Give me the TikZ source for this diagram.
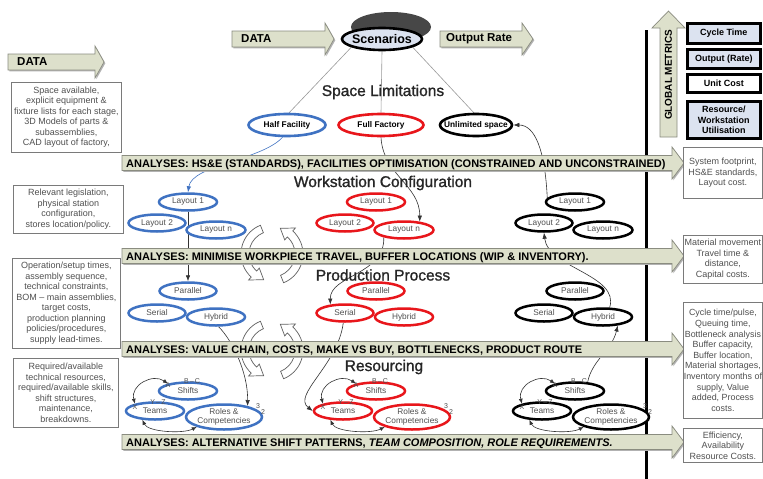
\documentclass[tikz,border=0pt]{standalone}
\usepackage{fontspec}
\setmainfont{Liberation Sans}
\newfontfamily\titlefont{Liberation Sans}[FakeBold=1.2]
\usetikzlibrary{shapes.geometric,arrows.meta,backgrounds}
\pgfdeclarelayer{bottom}
\pgfsetlayers{bottom,background,main}
\definecolor{bandfill}{HTML}{DDE0CB}
\definecolor{bandline}{HTML}{8A8C80}
\definecolor{cblue}{HTML}{3F72C2}
\definecolor{cred}{HTML}{E8161B}
\definecolor{metfill}{HTML}{DCE3F0}
\definecolor{txtgray}{HTML}{505050}
\definecolor{boxline}{HTML}{7A7A7A}
\tikzset{
 bandarrow/.style={fill=bandfill, draw=bandline, line width=0.7pt},
 bandshadow/.style={fill=black!30},
 bandtext/.style={anchor=base west, font=\fontsize{11}{11}\selectfont\bfseries, inner sep=0pt},
 arrowtext/.style={anchor=west, font=\fontsize{11.5}{12}\selectfont\bfseries, inner sep=0pt},
 title/.style={font=\titlefont\fontsize{15.5}{16}\selectfont, text=black!85},
 ell/.style={ellipse, draw=#1, line width=2.5pt, fill=white, inner sep=0pt, text=txtgray, font=\fontsize{8.3}{9}\selectfont, align=center},
 spell/.style={ellipse, draw=#1, line width=2.6pt, fill=white, inner sep=0pt, font=\fontsize{8.3}{9}\selectfont\bfseries, minimum height=22},
 infobox/.style={draw=boxline, line width=0.8pt, fill=white, text=txtgray, align=center, font=\fontsize{9}{10.5}\selectfont, inner sep=0pt, anchor=north west},
 metbox/.style={draw=black, line width=2.6pt, fill=metfill, align=center, font=\fontsize{9}{10.5}\selectfont\bfseries, minimum width=73, inner sep=0pt, anchor=north west},
 conn/.style={line width=0.6pt, draw=black!80, -{Latex[length=6pt,width=4.5pt]}},
 dconn/.style={line width=0.6pt, draw=black!80, {Latex[length=5pt,width=4pt]}-{Latex[length=5pt,width=4pt]}},
 feed/.style={draw=gray!80, line width=0.6pt},
 cyc/.style={draw=gray!75!black, line width=0.7pt, fill=white},
 lbl/.style={font=\fontsize{7}{7}\selectfont, text=txtgray, inner sep=0pt},
}
\newcommand\harrow[6]{%
 \fill[bandshadow] ({#1+1.3},{#4+#5-1.3}) -- ({#2+1.3},{#4+#5-1.3}) -- ({#2+1.3},{#4+#6-1.3}) -- ({#3+1.3},{#4-1.3}) -- ({#2+1.3},{#4-#6-1.3}) -- ({#2+1.3},{#4-#5-1.3}) -- ({#1+1.3},{#4-#5-1.3}) -- cycle;
 \draw[bandarrow] (#1,{#4+#5}) -- (#2,{#4+#5}) -- (#2,{#4+#6}) -- (#3,#4) -- (#2,{#4-#6}) -- (#2,{#4-#5}) -- (#1,{#4-#5}) -- cycle;}
\newcommand\cycarr[6]{%
 \pgfmathsetmacro\cyM{(#5+#6)/2}%
 \pgfmathsetmacro\cyO{#6+4}%
 \pgfmathsetmacro\cyI{#5-4}%
 \pgfmathsetmacro\cyH{#4+24}%
 \draw[cyc] ([shift={(#3:#6)}]#1,#2) arc[start angle=#3,end angle=#4,radius=#6] -- ([shift={(#4:\cyO)}]#1,#2) -- ([shift={(\cyH:\cyM)}]#1,#2) -- ([shift={(#4:\cyI)}]#1,#2) -- ([shift={(#4:#5)}]#1,#2) arc[start angle=#4,end angle=#3,radius=#5] -- cycle;}
\begin{document}
\begin{tikzpicture}[x=1pt,y=1pt]
\useasboundingbox (0,0) rectangle (763,-479);
\begin{pgfonlayer}{bottom}
\fill[white] (0,0) rectangle (763,-479);
\end{pgfonlayer}

% divider
\draw[line width=3pt] (646,-30) -- (646,-479);

% top arrows
\harrow{232}{325}{334}{-39}{8}{16}
\node[arrowtext] (dtop) at (241,-39) {DATA};
\harrow{440}{522}{533}{-39}{8}{16}
\node[arrowtext] (otop) at (446,-39) {Output Rate};
\harrow{8}{95}{104}{-62}{8}{16}
\node[arrowtext] (dleft) at (17,-62) {DATA};

% scenarios
\fill[black!72] (391,-27) ellipse [x radius=40, y radius=15];
\node[ellipse, draw=black, line width=2.6pt, fill=metfill, minimum width=80, minimum height=22, font=\fontsize{12.5}{13}\selectfont\bfseries, inner sep=0pt] (scen) at (382,-39) {\makebox[0pt]{Scenarios}};

% titles
\node[title] (tSpace) at (383,-92) {Space Limitations};
\node[title] (tWork) at (383,-183) {Workstation Configuration};
\node[title] (tProd) at (383,-275) {Production Process};
\node[title] (tRes) at (384,-367) {Resourcing};

% cycle arrows
\cycarr{272}{-254}{112}{228}{23}{31}
\cycarr{272}{-254}{292}{408}{23}{31}
\cycarr{272}{-350}{112}{228}{23}{31}
\cycarr{272}{-350}{292}{408}{23}{31}

% analysis bands
\harrow{122}{672}{684}{-163}{7.5}{16}
\node[bandtext] (a1) at (126,-167) {ANALYSES: HS\&E (STANDARDS), FACILITIES OPTIMISATION (CONSTRAINED AND UNCONSTRAINED)};
\harrow{122}{672}{684}{-256}{7.5}{16}
\node[bandtext] (a2) at (126,-260) {ANALYSES: MINIMISE WORKPIECE TRAVEL, BUFFER LOCATIONS (WIP \& INVENTORY).};
\harrow{122}{672}{684}{-349}{7.5}{16}
\node[bandtext] (a3) at (126,-353) {ANALYSES: VALUE CHAIN, COSTS, MAKE VS BUY, BOTTLENECKS, PRODUCT ROUTE};
\harrow{122}{672}{684}{-442}{7.5}{16}
\node[bandtext] (a4) at (126,-446) {ANALYSES: ALTERNATIVE SHIFT PATTERNS, \textit{TEAM COMPOSITION, ROLE REQUIREMENTS.}};

% global metrics
\draw[bandarrow] (660,-137) -- (660,-28) -- (652,-28) -- (668.5,-11) -- (685,-28) -- (677,-28) -- (677,-137) -- cycle;
\node[rotate=90, font=\fontsize{10}{10}\selectfont\bfseries] (gm) at (668.5,-75) {GLOBAL METRICS};
\node[metbox, minimum height=20] (mCT) at (686,-22) {Cycle Time};
\node[metbox, minimum height=19] (mOR) at (686,-48) {Output (Rate)};
\node[metbox, minimum height=18, fill=white] (mUC) at (686,-73) {Unit Cost};
\node[metbox, minimum height=37] (mRU) at (686,-100) {Resource/\\Workstation\\Utilisation};

% left data boxes
\node[infobox, minimum width=110, minimum height=70] (L1) at (11,-82) {Space available,\\explicit equipment \&\\fixture lists for each stage,\\3D Models of parts \&\\subassemblies,\\CAD layout of factory,};
\node[infobox, minimum width=110, minimum height=48] (L2) at (13,-185) {Relevant legislation,\\physical station\\configuration,\\stores location/policy.};
\node[infobox, minimum width=108, minimum height=90] (L3) at (12,-258) {Operation/setup times,\\assembly sequence,\\technical constraints,\\BOM – main assemblies,\\target costs,\\production planning\\policies/procedures,\\supply lead-times.};
\node[infobox, minimum width=105, minimum height=69] (L4) at (13,-358) {Required/available\\technical resources,\\required/available skills,\\shift structures,\\maintenance,\\breakdowns.};

% right metric boxes
\node[infobox, minimum width=79, minimum height=51] (R1) at (683,-147) {System footprint,\\HS\&E standards,\\Layout cost.};
\node[infobox, minimum width=79, minimum height=48] (R2) at (683,-235) {Material movement\\Travel time \&\\distance,\\Capital costs.};
\node[infobox, minimum width=79, minimum height=116, font=\fontsize{8.9}{10.6}\selectfont] (R3) at (683,-302) {Cycle time/pulse,\\Queuing time,\\Bottleneck analysis\\Buffer capacity,\\Buffer location,\\Material shortages,\\Inventory months of\\supply, Value\\added, Process\\costs.};
\node[infobox, minimum width=79, minimum height=34] (R4) at (683,-428) {Efficiency,\\Availability\\Resource Costs.};

% space limitations
\node[spell=cblue, minimum width=77] (half) at (287,-125) {Half Facility};
\node[spell=cred, minimum width=85] (full) at (381,-125) {Full Factory};
\node[spell=black, minimum width=72] (unl) at (476,-125) {\makebox[0pt]{Unlimited space}};

% columns
\foreach \p/\c/\col in {b/188/cblue, r/376/cred, k/575/black}{
 \node[ell=\col, minimum width=58, minimum height=17] (\p L1) at (\c,-202) {Layout 1};
 \node[ell=\col, minimum width=57, minimum height=17] (\p L2) at ({\c-31},-223) {Layout 2};
 \node[ell=\col, minimum width=59, minimum height=17] (\p Ln) at ({\c+28},-230) {Layout n};
 \node[ell=\col, minimum width=57, minimum height=17] (\p Par) at (\c,-291) {Parallel};
 \node[ell=\col, minimum width=57, minimum height=17] (\p Ser) at ({\c-31},-313) {Serial};
 \node[ell=\col, minimum width=58, minimum height=17] (\p Hyb) at ({\c+28},-317) {Hybrid};
 \node[ell=\col, minimum width=58, minimum height=17] (\p Shifts) at (\c,-391) {Shifts};
 \node[ell=\col, minimum width=58, minimum height=17] (\p Teams) at ({\c-33},-411) {Teams};
 \node[ell=\col, minimum width=76, minimum height=25] (\p Roles) at ({\c+36},-417) {Roles \&\\Competencies};
 \node[lbl] (\p lA) at ({\c-20},-385) {A};
 \node[lbl] (\p lBC) at ({\c+4},-381) {B\,–\,C};
 \node[lbl] (\p lX) at ({\c-53},-407) {X};
 \node[lbl] (\p lYZ) at ({\c-30},-402) {Y\,–\,Z};
 \node[lbl] (\p lt) at ({\c+70},-406) {3};
 \node[lbl] (\p ld) at ({\c+75},-412) {2};
}

% connectors
\begin{pgfonlayer}{background}
 \draw[feed] (scen.195) -- (half.80);
 \draw[feed] (scen.south) -- (full.north);
 \draw[feed] (scen.-15) -- (unl.100);
 \draw[conn, draw=cblue] (half.250) .. controls (262,-160) and (192,-165) .. (bL1.north);
 \draw[conn] (bL1.south) -- (bPar.north);
 \draw[conn] (bHyb.285) .. controls (232,-340) and (248,-372) .. (bRoles.25);
 \draw[conn] (full.south) .. controls (383,-175) and (420,-185) .. (rLn.28);
 \draw[conn] (rLn.200) .. controls (385,-275) and (330,-275) .. (rSer.150);
 \draw[conn] (rSer.260) .. controls (338,-365) and (292,-395) .. (rTeams.west);
 \draw[conn] (kL1.172) .. controls (545,-150) and (535,-125) .. (unl.east);
 \draw[conn] (kHyb.55) .. controls (620,-275) and (548,-268) .. (kL2.south);
 \draw[conn] (kShifts.35) .. controls (592,-360) and (612,-350) .. (kHyb.-30);
 \foreach \p/\c in {b/188, r/376, k/575}{
  \draw[dconn] (\p Shifts.160) .. controls ({\c-35},-373) and ({\c-58},-385) .. (\p Teams.160);
  \draw[dconn] (\p Teams.215) .. controls ({\c-40},-432) and ({\c-5},-434) .. (\p Roles.200);
 }
\end{pgfonlayer}
\end{tikzpicture}
\end{document}
